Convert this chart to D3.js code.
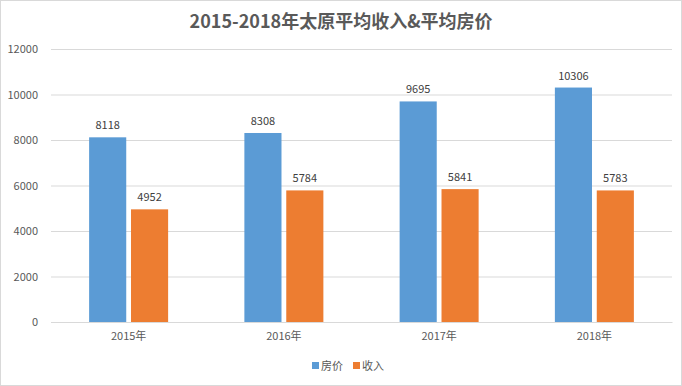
<!DOCTYPE html>
<html>
<head>
<meta charset="utf-8">
<script src="https://cdn.jsdelivr.net/npm/d3@7"></script>
<style>
  body { margin: 0; background: #fff; }
  text { font-family: "Noto Sans CJK SC", "Noto Sans", sans-serif; }
</style>
</head>
<body>
<div id="chart"></div>
<script>
// data
var years = ["2015年", "2016年", "2017年", "2018年"];
var housePrice = [8118, 8308, 9695, 10306];
var income = [4952, 5784, 5841, 5783];
var seriesNames = ["房价", "收入"];
var yTicks = [0, 2000, 4000, 6000, 8000, 10000, 12000];

var svgWidth = 682;
var svgHeight = 386;
var colors = ["#5B9BD5", "#ED7D31"];

var margin = { top: 49, right: 10, bottom: 64, left: 51 };
var width = svgWidth - margin.left - margin.right;
var height = 322 - margin.top;

var svg = d3.select("#chart")
  .append("svg")
  .attr("width", svgWidth)
  .attr("height", svgHeight);

// chart border
svg.append("rect")
  .attr("x", 0.5).attr("y", 0.5)
  .attr("width", svgWidth - 1).attr("height", svgHeight - 1)
  .attr("fill", "none")
  .attr("stroke", "#d9d9d9");

// title
svg.append("text")
  .attr("x", svgWidth / 2)
  .attr("y", 28)
  .attr("text-anchor", "middle")
  .attr("font-size", "18px")
  .attr("font-weight", "bold")
  .attr("fill", "#595959")
  .text("2015-2018年太原平均收入&平均房价");

var chartGroup = svg.append("g")
  .attr("transform", `translate(${margin.left}, ${margin.top})`);

var xScale = d3.scaleBand()
  .domain(years)
  .range([0, width]);

var xInner = d3.scaleBand()
  .domain(seriesNames)
  .range([0, 79])
  .paddingInner(9 / 79);

var yScale = d3.scaleLinear()
  .domain([0, 12000])
  .range([height, 0]);

// gridlines
var leftAxis = d3.axisLeft(yScale)
  .tickValues(yTicks)
  .tickFormat(d3.format("d"))
  .tickSize(-width)
  .tickPadding(13);

var yAxisG = chartGroup.append("g").call(leftAxis);
yAxisG.select(".domain").remove();
yAxisG.selectAll(".tick line").attr("stroke", "#d9d9d9");
yAxisG.selectAll(".tick text")
  .attr("font-size", "11px")
  .attr("fill", "#595959")
  .style("font-family", "'Noto Sans CJK SC', sans-serif");

// bottom axis
var bottomAxis = d3.axisBottom(xScale).tickSize(0).tickPadding(10);
var xAxisG = chartGroup.append("g")
  .attr("transform", `translate(0, ${height})`)
  .call(bottomAxis);
xAxisG.select(".domain").attr("stroke", "#d9d9d9");
xAxisG.selectAll(".tick text")
  .attr("font-size", "11px")
  .attr("fill", "#595959")
  .style("font-family", "'Noto Sans CJK SC', sans-serif");

var series = [housePrice, income];
var groupOffset = (xScale.bandwidth() - 79) / 2;

series.forEach(function(values, s) {
  var g = chartGroup.append("g");
  g.selectAll("rect")
    .data(values)
    .enter()
    .append("rect")
    .attr("x", (d, i) => xScale(years[i]) + groupOffset + xInner(seriesNames[s]))
    .attr("y", d => yScale(d))
    .attr("width", xInner.bandwidth())
    .attr("height", d => height - yScale(d))
    .attr("fill", colors[s]);

  g.selectAll("text")
    .data(values)
    .enter()
    .append("text")
    .attr("x", (d, i) => xScale(years[i]) + groupOffset + xInner(seriesNames[s]) + xInner.bandwidth() / 2)
    .attr("y", d => yScale(d) - 8)
    .attr("text-anchor", "middle")
    .attr("font-size", "11px")
    .attr("fill", "#404040")
    .text(d => d);
});

// legend
var legend = svg.append("g")
  .attr("transform", "translate(312, 366)");
var legendX = [0, 41];
seriesNames.forEach(function(name, i) {
  legend.append("rect")
    .attr("x", legendX[i])
    .attr("y", -4)
    .attr("width", 7)
    .attr("height", 7)
    .attr("fill", colors[i]);
  legend.append("text")
    .attr("x", legendX[i] + 9)
    .attr("y", 4)
    .attr("font-size", "11px")
    .attr("fill", "#595959")
    .text(name);
});
</script>
</body>
</html>
